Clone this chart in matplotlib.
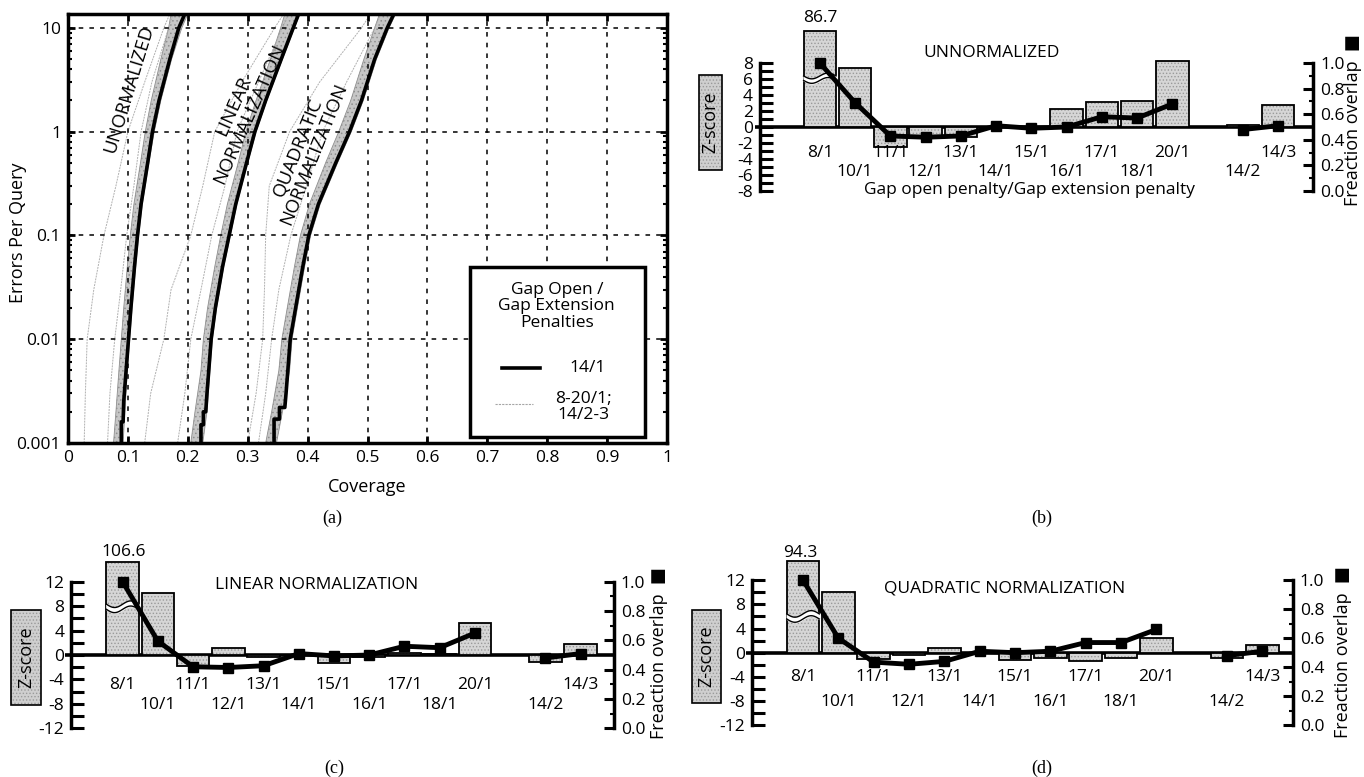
import numpy as np
import matplotlib
matplotlib.use("Agg")
import matplotlib.pyplot as plt
from matplotlib.patches import Rectangle
from matplotlib.ticker import LogLocator, NullFormatter, FormatStrFormatter

plt.rcParams["font.family"] = ["Open Sans", "DejaVu Sans"]
plt.rcParams["hatch.linewidth"] = 0.6

W, H = 1364, 777

# ---------------- (a) errors per query vs coverage ----------------
# 14/1 curves (black)
unnorm_y = [0.001, 0.0016, 0.0016, 0.0025, 0.005, 0.01, 0.02, 0.05, 0.1, 0.2, 0.5, 1, 2, 5, 10, 13.6]
unnorm_x = [0.089, 0.089, 0.092, 0.093, 0.097, 0.101, 0.105, 0.111, 0.116, 0.122, 0.133, 0.141, 0.152, 0.170, 0.185, 0.195]
linear_y = [0.001, 0.0015, 0.0015, 0.002, 0.002, 0.003, 0.005, 0.01, 0.02, 0.05, 0.1, 0.2, 0.5, 1, 2, 5, 10, 13.6]
linear_x = [0.222, 0.222, 0.226, 0.226, 0.230, 0.232, 0.235, 0.239, 0.246, 0.258, 0.269, 0.280, 0.298, 0.312, 0.330, 0.356, 0.376, 0.385]
quad_y = [0.001, 0.0017, 0.0017, 0.0022, 0.0022, 0.003, 0.005, 0.01, 0.02, 0.05, 0.1, 0.2, 0.5, 1, 2, 5, 10, 13.6]
quad_x = [0.344, 0.344, 0.353, 0.353, 0.362, 0.364, 0.367, 0.371, 0.380, 0.392, 0.402, 0.418, 0.447, 0.470, 0.490, 0.512, 0.533, 0.544]

# grey band of the other gap penalties close to 14/1
band_y = [0.001, 0.002, 0.005, 0.01, 0.02, 0.05, 0.1, 0.2, 0.5, 1, 2, 5, 10, 13.6]
unnorm_band_lo = [0.076, 0.080, 0.085, 0.089, 0.093, 0.099, 0.104, 0.110, 0.121, 0.129, 0.139, 0.155, 0.168, 0.172]
unnorm_band_hi = [0.092, 0.095, 0.099, 0.103, 0.107, 0.113, 0.118, 0.124, 0.135, 0.144, 0.155, 0.173, 0.190, 0.200]
linear_band_lo = [0.205, 0.212, 0.222, 0.226, 0.233, 0.245, 0.255, 0.266, 0.284, 0.297, 0.314, 0.338, 0.355, 0.362]
linear_band_hi = [0.225, 0.232, 0.237, 0.241, 0.248, 0.260, 0.271, 0.282, 0.300, 0.314, 0.332, 0.358, 0.378, 0.387]
quad_band_lo = [0.330, 0.340, 0.352, 0.357, 0.366, 0.378, 0.388, 0.403, 0.430, 0.452, 0.472, 0.494, 0.512, 0.520]
quad_band_hi = [0.348, 0.358, 0.370, 0.374, 0.383, 0.395, 0.405, 0.421, 0.450, 0.473, 0.493, 0.515, 0.536, 0.547]

# outlying penalties (thin dotted)
out_y = [0.001, 0.003, 0.01, 0.03, 0.1, 0.3, 1, 3, 10, 13.6]
unnorm_out = [[0.027, 0.029, 0.032, 0.043, 0.060, 0.080, 0.100, 0.128, 0.160, 0.170],
              [0.066, 0.070, 0.078, 0.088, 0.098, 0.110, 0.122, 0.140, 0.168, 0.176]]
linear_out = [[0.128, 0.138, 0.160, 0.172, 0.205, 0.225, 0.245, 0.290, 0.345, 0.360],
              [0.183, 0.195, 0.205, 0.222, 0.240, 0.262, 0.282, 0.318, 0.358, 0.368]]
quad_out = [[0.300, 0.314, 0.325, 0.328, 0.330, 0.336, 0.370, 0.420, 0.490, 0.505],
            [0.318, 0.330, 0.340, 0.352, 0.372, 0.398, 0.425, 0.465, 0.512, 0.522]]

# ---------------- (b)-(d) z-score bars and fraction overlap ----------------
categories = ["8/1", "10/1", "11/1", "12/1", "13/1", "14/1", "15/1", "16/1",
              "17/1", "18/1", "20/1", "14/2", "14/3"]
z_unnorm = [86.7, 7.4, -2.5, -1.3, -1.3, 0.0, 0.0, 2.3, 3.1, 3.2, 8.2, 0.2, 2.7]
frac_unnorm = [1.0, 0.69, 0.43, 0.42, 0.43, 0.51, 0.49, 0.50, 0.58, 0.57, 0.68, 0.48, 0.51]
z_linear = [106.6, 10.1, -1.8, 1.1, -0.3, 0.0, -1.25, -0.3, 0.4, 0.2, 5.2, -1.1, 1.8]
frac_linear = [1.0, 0.595, 0.42, 0.415, 0.427, 0.51, 0.494, 0.50, 0.56, 0.55, 0.65, 0.48, 0.51]
z_quad = [94.3, 10.1, -1.1, -0.3, 0.8, 0.0, -1.2, -0.9, -1.4, -0.8, 2.4, -0.9, 1.2]
frac_quad = [1.0, 0.60, 0.435, 0.42, 0.44, 0.51, 0.50, 0.51, 0.57, 0.57, 0.66, 0.48, 0.51]


def px_rect(x0, y0, x1, y1):
    return [x0 / W, 1 - y1 / H, (x1 - x0) / W, (y1 - y0) / H]


fig = plt.figure(figsize=(W / 100, H / 100), dpi=100)

# ================= panel (a) =================
ax = fig.add_axes(px_rect(68, 14, 667, 443))
ax.set_yscale("log")
ax.set_xlim(0, 1)
ax.set_ylim(0.001, 13.6)

groups = [(unnorm_x, unnorm_y, unnorm_band_lo, unnorm_band_hi, unnorm_out),
          (linear_x, linear_y, linear_band_lo, linear_band_hi, linear_out),
          (quad_x, quad_y, quad_band_lo, quad_band_hi, quad_out)]
for bx, by, lo, hi, outs in groups:
    ax.fill_betweenx(band_y, lo, hi, facecolor="#c6c6c6", edgecolor="#8f8f8f",
                     linewidth=0.6, hatch="....", zorder=1)
    for ox in outs:
        ax.plot(ox, out_y, color="#b0b0b0", lw=0.7, ls=(0, (2, 1)), zorder=1.5)
    ax.plot(bx, by, color="black", lw=2.6, zorder=3)

ax.set_xticks(np.arange(0, 1.01, 0.1))
ax.set_xticklabels(["0", "0.1", "0.2", "0.3", "0.4", "0.5", "0.6", "0.7", "0.8", "0.9", "1"])
ax.set_yticks([0.001, 0.01, 0.1, 1, 10])
ax.set_yticklabels(["0.001", "0.01", "0.1", "1", "10"])
ax.yaxis.set_minor_locator(LogLocator(base=10, subs=range(2, 10), numticks=20))
ax.yaxis.set_minor_formatter(NullFormatter())
ax.tick_params(axis="both", which="major", direction="in", length=5, width=2,
               labelsize=12.5, top=True, right=True, pad=5)
ax.tick_params(axis="y", which="minor", direction="in", length=3, width=1.5, right=True)
ax.grid(True, which="major", color="black", lw=1.1, ls=(0, (3, 4)), zorder=0.5)
for s in ax.spines.values():
    s.set_linewidth(2.5)
ax.set_ylabel("Errors Per Query", fontsize=13)
ax.yaxis.set_label_coords(-0.068, 0.49)
ax.set_xlabel("Coverage", fontsize=13)
ax.xaxis.set_label_coords(0.499, -0.082)

ax.text(0.102, 2.6, "UNORMALIZED", rotation=73, ha="center", va="center", fontsize=13.5)
ax.text(0.289, 1.62, "LINEAR\nNORMALIZATION", rotation=66, ha="center", va="center",
        fontsize=13.5, linespacing=0.95)
ax.text(0.397, 0.66, "QUADRATIC\nNORMALIZATION", rotation=68, ha="center", va="center",
        fontsize=13.5, linespacing=0.95)

# legend box
ax.add_patch(Rectangle((0.671, 0.014), 0.292, 0.396, transform=ax.transAxes,
                       facecolor="white", edgecolor="black", lw=2.5, zorder=5))
ax.text(0.816, 0.319, "Gap Open /\nGap Extension\nPenalties", transform=ax.transAxes,
        ha="center", va="center", fontsize=12.5, linespacing=1.05, zorder=6)
ax.plot([0.725, 0.788], [0.175, 0.175], transform=ax.transAxes, color="black", lw=2.6, zorder=6)
ax.text(0.868, 0.175, "14/1", transform=ax.transAxes, ha="center", va="center",
        fontsize=12.5, zorder=6)
ax.plot([0.713, 0.776], [0.091, 0.091], transform=ax.transAxes, color="#a6a6a6",
        lw=0.8, ls=(0, (2, 1)), zorder=6)
ax.text(0.86, 0.084, "8-20/1;\n14/2-3", transform=ax.transAxes, ha="center", va="center",
        fontsize=12.5, linespacing=1.0, zorder=6)


# ================= panels (b)-(d) =================
def bar_panel(rect, xlim, ylim, spine_x, zmax, z, frac, cap, brk, top_label, top_xy,
              title, title_xy, rows_z, frac_lab_x, frac_lab_y, zbox, xtitle=None):
    ax = fig.add_axes(rect)
    ax.set_xlim(*xlim)
    ax.set_ylim(*ylim)
    pos = [i if i < 11 else i + 1 for i in range(len(categories))]
    zd = [min(v, cap) for v in z]
    ax.axhline(0, color="black", lw=2.6, zorder=2)
    ax.bar(pos, zd, width=0.92, color="#d6d6d6", edgecolor="#9a9a9a", linewidth=0,
           hatch=".....", zorder=2.2)
    ax.bar(pos, zd, width=0.92, fill=False, edgecolor="black", linewidth=1.3, zorder=2.4)

    # break mark on the clipped bar
    xs = np.linspace(-0.46, 0.46, 60)
    ys = brk + 0.045 * zmax * np.sin(xs / 0.46 * np.pi)
    g = 0.035 * zmax
    ax.fill_between(xs, ys - g, ys + g, color="white", zorder=2.5)
    ax.plot(xs, ys - g, color="black", lw=1, zorder=2.6)
    ax.plot(xs, ys + g, color="black", lw=1, zorder=2.6)
    ax.text(top_xy[0], top_xy[1], top_label, ha="center", va="center", fontsize=12.5)

    ax.text(title_xy[0], title_xy[1], title, ha="center", va="center", fontsize=12.5)
    for i, (p, c) in enumerate(zip(pos, categories)):
        ax.text(p, rows_z[i % 2], c, ha="center", va="center", fontsize=12.5)
    if xtitle:
        ax.text(xtitle[1], xtitle[2], xtitle[0], ha="center", va="center", fontsize=12.5)

    for s in ["top", "bottom", "right"]:
        ax.spines[s].set_visible(False)
    ax.spines["left"].set_position(("data", spine_x))
    ax.spines["left"].set_bounds(-zmax, zmax)
    ax.spines["left"].set_linewidth(2.5)
    step = zmax / 4 if zmax == 8 else zmax / 3
    major = np.arange(-zmax, zmax + 0.1, step)
    ax.set_yticks(major)
    ax.set_yticklabels([f"{t:g}" for t in major])
    ax.set_yticks(major[:-1] + step / 2, minor=True)
    ax.tick_params(axis="y", which="both", direction="in", length=9, width=2.2,
                   labelsize=12.5, pad=5)
    ax.set_xticks([])

    ax2 = ax.twinx()
    ax2.set_ylim(ylim[0] / (2 * zmax) + 0.5, ylim[1] / (2 * zmax) + 0.5)
    for s in ["top", "bottom", "left"]:
        ax2.spines[s].set_visible(False)
    ax2.spines["right"].set_bounds(0, 1)
    ax2.spines["right"].set_linewidth(2.5)
    ax2.set_yticks(np.arange(0, 1.01, 0.2))
    ax2.set_yticks(np.arange(0.1, 1.0, 0.2), minor=True)
    ax2.yaxis.set_major_formatter(FormatStrFormatter("%.1f"))
    ax2.tick_params(axis="y", which="major", direction="in", length=7, width=2.2,
                    labelsize=12.5, pad=5)
    ax2.tick_params(axis="y", which="minor", direction="in", length=3, width=1.5)
    ax2.plot(pos[:11], frac[:11], color="black", lw=3.5, marker="s", ms=7, zorder=4)
    ax2.plot(pos[11:], frac[11:], color="black", lw=3.5, marker="s", ms=7, zorder=4)
    ax2.text(frac_lab_x, frac_lab_y, "Freaction overlap  \u25a0", transform=ax2.transAxes,
             rotation=90, ha="center", va="center", fontsize=13)

    # Z-score label box (pixel coords)
    x0, y0, x1, y1 = zbox
    r = px_rect(x0, y0, x1, y1)
    fig.add_artist(Rectangle((r[0], r[1]), r[2], r[3], transform=fig.transFigure,
                             facecolor="#cfcfcf", edgecolor="#9a9a9a", lw=0, hatch="....."))
    fig.add_artist(Rectangle((r[0], r[1]), r[2], r[3], transform=fig.transFigure,
                             fill=False, edgecolor="black", lw=1.2))
    fig.text((x0 + x1) / 2 / W, 1 - (y0 + y1) / 2 / H, "Z-score", rotation=90,
             ha="center", va="center", fontsize=13)
    return ax


bar_panel(px_rect(754.6, 7, 1313.4, 193.4), (-1.85, 14.0), (-8.3, 15), -1.70, 8,
          z_unnorm, frac_unnorm, 12.0, 6.1, "86.7", (0, 13.6),
          "UNNORMALIZED", (4.86, 9.25), (-3.2, -5.6), 1.071, 0.395,
          (698.6, 75, 722.2, 170),
          xtitle=("Gap open penalty/Gap extension penalty", 5.95, -7.9))
bar_panel(px_rect(65.2, 535.9, 613.7, 730.8), (-1.63, 13.94), (-12.4, 19.5), -1.46, 12,
          z_linear, frac_linear, 15.3, 7.9, "106.6", (0.03, 16.9),
          "LINEAR NORMALIZATION", (5.5, 11.5), (-4.9, -8.2), 1.083, 0.398,
          (10.8, 610, 41.2, 705))
bar_panel(px_rect(746.5, 534.9, 1292.8, 727.6), (-1.6, 13.86), (-12.4, 19.5), -1.44, 12,
          z_quad, frac_quad, 15.1, 6.0, "94.3", (-0.08, 16.5),
          "QUADRATIC NORMALIZATION", (5.7, 10.7), (-4.0, -8.1), 1.092, 0.393,
          (692, 610, 721, 703))

# captions
for lab, x, y in [("(a)", 332, 518), ("(b)", 1042, 518), ("(c)", 334, 768), ("(d)", 1042, 768)]:
    fig.text(x / W, 1 - y / H, lab, ha="center", va="center", fontsize=13,
             family="Liberation Serif")

fig.savefig("out.png", dpi=100)
